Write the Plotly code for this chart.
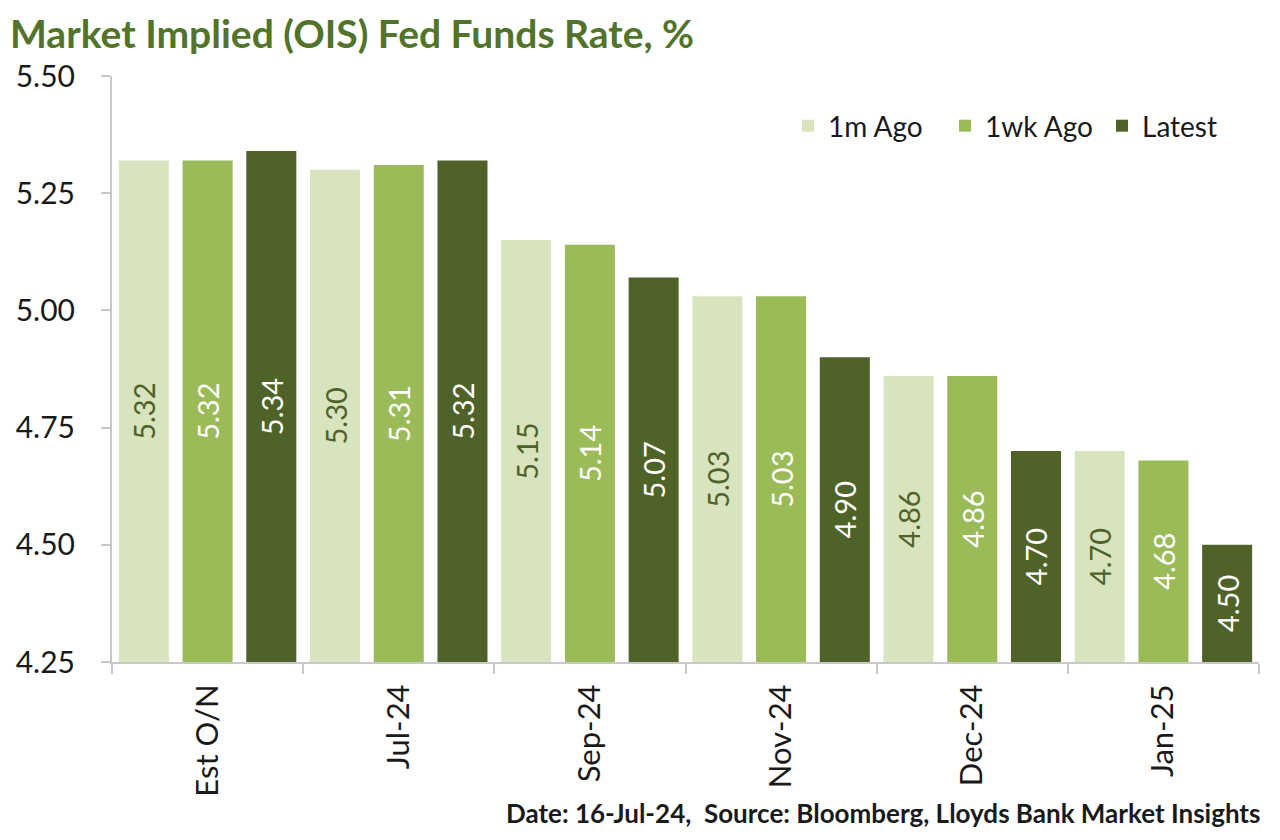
import plotly.graph_objects as go

categories = ["Est O/N", "Jul-24", "Sep-24", "Nov-24", "Dec-24", "Jan-25"]
series_names = ["1m Ago", "1wk Ago", "Latest"]
one_month_ago = [5.32, 5.30, 5.15, 5.03, 4.86, 4.70]
one_week_ago = [5.32, 5.31, 5.14, 5.03, 4.86, 4.68]
latest = [5.34, 5.32, 5.07, 4.90, 4.70, 4.50]
y_ticks = [4.25, 4.50, 4.75, 5.00, 5.25, 5.50]
axis_floor = 4.25

colors = ["#d7e4bd", "#9bbb59", "#4f6228"]
text_colors = ["#4f6228", "#ffffff", "#ffffff"]
FONT = "Lato, Open Sans, sans-serif"

fig = go.Figure()
for name, vals, c, tc in zip(series_names, [one_month_ago, one_week_ago, latest], colors, text_colors):
    fig.add_trace(go.Bar(
        name=name, x=categories,
        y=[v - axis_floor for v in vals], base=axis_floor,
        marker=dict(color=c, line=dict(width=0)),
        text=[f"{v:.2f}" for v in vals],
        textposition="inside", insidetextanchor="middle",
        textangle=-90, constraintext="none",
        textfont=dict(family=FONT, size=29, color=tc),
        hovertext=[f"{v:.2f}" for v in vals], hoverinfo="text+name",
    ))

# page body has an 8px margin, so the figure is sized to fill the remaining view
fig.update_layout(
    width=1272, height=832,
    paper_bgcolor="white", plot_bgcolor="white",
    barmode="group", bargap=0.0, bargroupgap=0.215,
    margin=dict(l=104, r=21, t=68, b=178),
    font=dict(family=FONT, size=22, color="#1a1a1a"),
    legend=dict(orientation="h", x=1.0, y=0.9147, xanchor="right", yanchor="middle",
                font=dict(family=FONT, size=28, color="#1a1a1a"),
                entrywidth=112, entrywidthmode="pixels",
                bgcolor="rgba(0,0,0,0)", traceorder="normal"),
    showlegend=True,
)
fig.update_yaxes(
    range=[4.25, 5.50], tickvals=y_ticks, tickformat=".2f",
    showgrid=False, zeroline=False, automargin=False,
    showline=True, linecolor="#c8c8c8", linewidth=2,
    ticks="outside", ticklen=9, tickcolor="#c8c8c8", tickwidth=2,
    ticklabelstandoff=20,
    tickfont=dict(family=FONT, size=30, color="#1a1a1a"),
)
fig.update_xaxes(
    showgrid=False, showline=True, linecolor="#c8c8c8", linewidth=2, automargin=False,
    ticks="outside", tickson="boundaries", ticklen=10, tickcolor="#c8c8c8", tickwidth=2,
    ticklabelstandoff=8,
    tickangle=-90, tickfont=dict(family=FONT, size=31, color="#1a1a1a"),
)

fig.add_annotation(
    text="<b>Market Implied (OIS) Fed Funds Rate, %</b>",
    xref="paper", yref="paper", x=-0.0907, y=1.0734, xanchor="left", yanchor="middle",
    showarrow=False,
    font=dict(family=FONT, size=39, color="#52732a"),
)
fig.add_annotation(
    text="<b>Date: 16-Jul-24,  Source: Bloomberg, Lloyds Bank Market Insights</b>",
    xref="paper", yref="paper", x=1.0026, y=-0.2577, xanchor="right", yanchor="middle",
    showarrow=False,
    font=dict(family=FONT, size=26, color="#1a1a1a"),
)

fig.write_html("out.html")
